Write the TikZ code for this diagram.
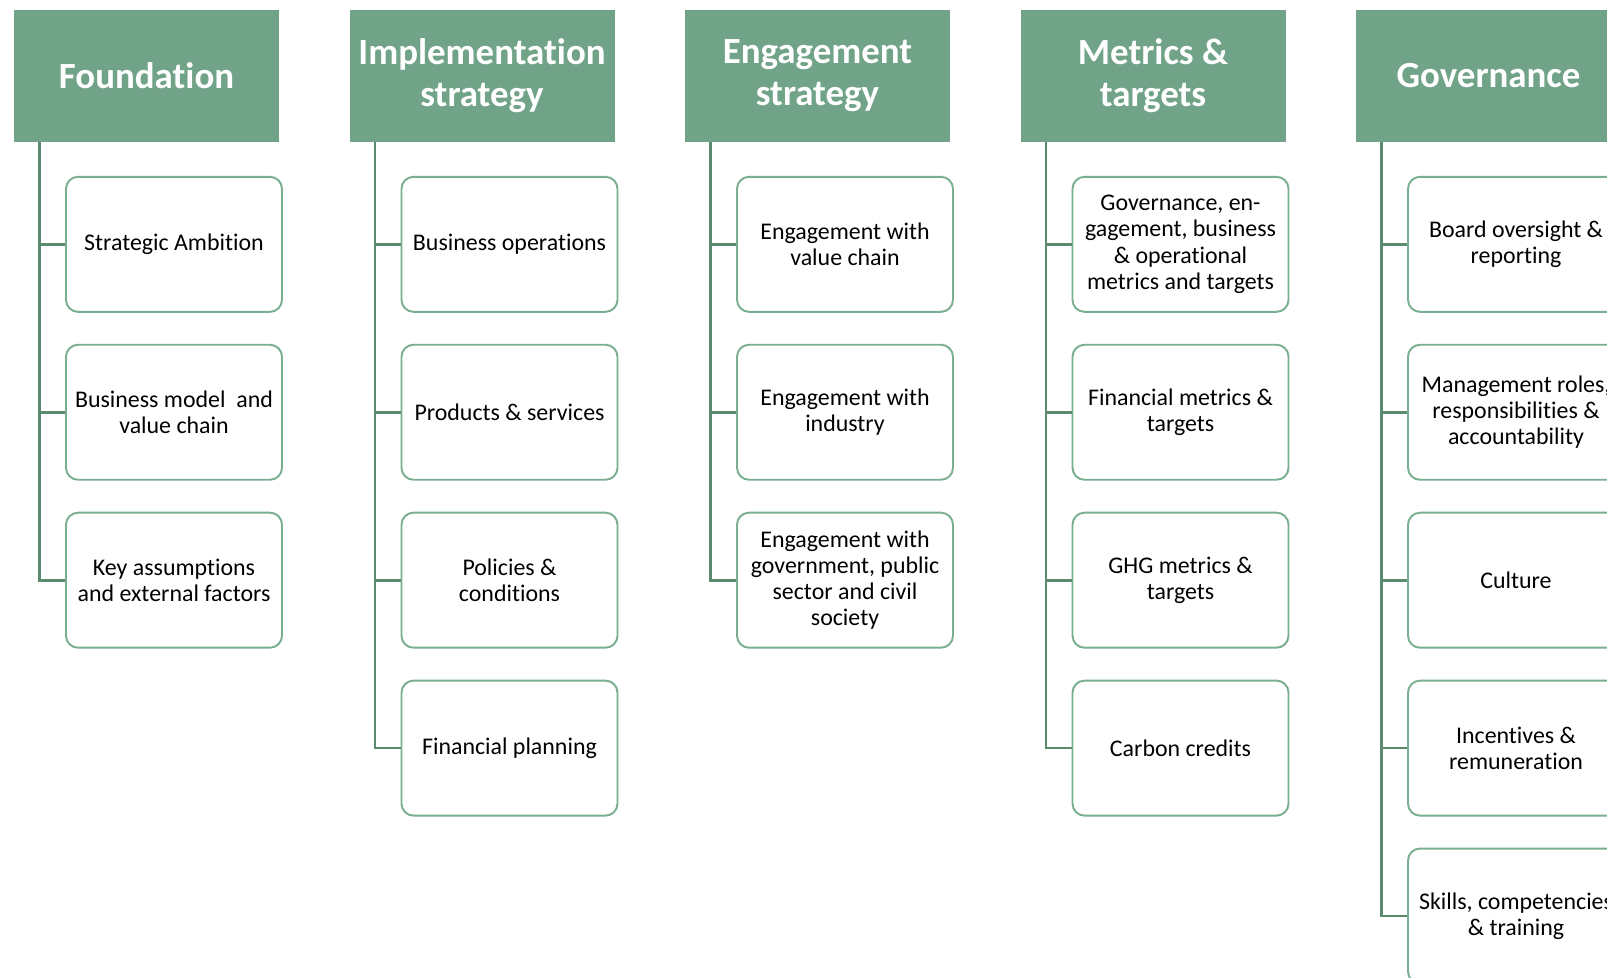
\documentclass[tikz,border=0pt]{standalone}
\usepackage{fontspec}
\setmainfont{Carlito}[Ligatures={NoCommon}]
\usepackage{tikz}
\usetikzlibrary{positioning,calc}

\definecolor{headgreen}{HTML}{70A387}
\definecolor{boxgreen}{HTML}{7AAE91}
\definecolor{linegreen}{HTML}{5B8B6F}

\tikzset{
  head/.style={fill=headgreen, text=white, font=\fontsize{21}{24}\selectfont\bfseries,
    align=center, minimum width=5.3cm, minimum height=2.64cm, inner sep=0pt},
  item/.style={draw=boxgreen, line width=1.1pt, rounded corners=0.24cm, fill=white,
    align=center, minimum width=4.32cm, minimum height=2.7cm, inner sep=0pt,
    font=\fontsize{13.6}{14.9}\selectfont},
  trunk/.style={draw=linegreen, line width=1.5pt}
}

\begin{document}
\begin{tikzpicture}

    \useasboundingbox (0,0) rectangle (32.14,-19.54);
    \clip (0,0) rectangle (32.14,-19.54);

    % headers
    \node[head] (hF) at (2.93,-1.52) {Foundation};
    \node[head] (hI) at ($(hF)+(6.71,0)$) {Implementation\\strategy};
    \node[head] (hE) at ($(hI)+(6.71,0)$) {Engagement\\strategy};
    \node[head] (hM) at ($(hE)+(6.71,0)$) {Metrics \&\\targets};
    \node[head] (hG) at ($(hM)+(6.71,0)$) {Governance};

    % foundation
    \node[item, below=0.67cm of hF, xshift=0.55cm] (F1) {Strategic Ambition};
    \node[item, below=0.62cm of F1] (F2) {Business model\ \ and\\value chain};
    \node[item, below=0.62cm of F2] (F3) {Key assumptions\\and external factors};

    % implementation strategy
    \node[item, below=0.67cm of hI, xshift=0.55cm] (I1) {Business operations};
    \node[item, below=0.62cm of I1] (I2) {Products \& services};
    \node[item, below=0.62cm of I2] (I3) {Policies \&\\conditions};
    \node[item, below=0.62cm of I3] (I4) {Financial planning};

    % engagement strategy
    \node[item, below=0.67cm of hE, xshift=0.55cm] (E1) {Engagement with\\value chain};
    \node[item, below=0.62cm of E1] (E2) {Engagement with\\industry};
    \node[item, below=0.62cm of E2] (E3) {Engagement with\\government, public\\sector and civil\\society};

    % metrics & targets
    \node[item, below=0.67cm of hM, xshift=0.55cm] (M1) {Governance, en-\\gagement, business\\\& operational\\metrics and targets};
    \node[item, below=0.62cm of M1] (M2) {Financial metrics \&\\targets};
    \node[item, below=0.62cm of M2] (M3) {GHG metrics \&\\targets};
    \node[item, below=0.62cm of M3] (M4) {Carbon credits};

    % governance
    \node[item, below=0.67cm of hG, xshift=0.55cm] (G1) {Board oversight \&\\reporting};
    \node[item, below=0.62cm of G1] (G2) {Management roles,\\responsibilities \&\\accountability};
    \node[item, below=0.62cm of G2] (G3) {Culture};
    \node[item, below=0.62cm of G3] (G4) {Incentives \&\\remuneration};
    \node[item, below=0.62cm of G4] (G5) {Skills, competencies\\\& training};

    % trunks
    \coordinate (tF) at ($(hF.south west)+(0.52,0)$);
    \coordinate (tI) at ($(hI.south west)+(0.52,0)$);
    \coordinate (tE) at ($(hE.south west)+(0.52,0)$);
    \coordinate (tM) at ($(hM.south west)+(0.52,0)$);
    \coordinate (tG) at ($(hG.south west)+(0.52,0)$);
    \draw[trunk] (tF) |- (F3.west);
    \draw[trunk] (tI) |- (I4.west);
    \draw[trunk] (tE) |- (E3.west);
    \draw[trunk] (tM) |- (M4.west);
    \draw[trunk] (tG) |- (G5.west);

    % branches
    \draw[trunk] (F1.west) -- (F1.west -| tF);
    \draw[trunk] (F2.west) -- (F2.west -| tF);
    \draw[trunk] (I1.west) -- (I1.west -| tI);
    \draw[trunk] (I2.west) -- (I2.west -| tI);
    \draw[trunk] (I3.west) -- (I3.west -| tI);
    \draw[trunk] (E1.west) -- (E1.west -| tE);
    \draw[trunk] (E2.west) -- (E2.west -| tE);
    \draw[trunk] (M1.west) -- (M1.west -| tM);
    \draw[trunk] (M2.west) -- (M2.west -| tM);
    \draw[trunk] (M3.west) -- (M3.west -| tM);
    \draw[trunk] (G1.west) -- (G1.west -| tG);
    \draw[trunk] (G2.west) -- (G2.west -| tG);
    \draw[trunk] (G3.west) -- (G3.west -| tG);
    \draw[trunk] (G4.west) -- (G4.west -| tG);
\end{tikzpicture}
\end{document}
